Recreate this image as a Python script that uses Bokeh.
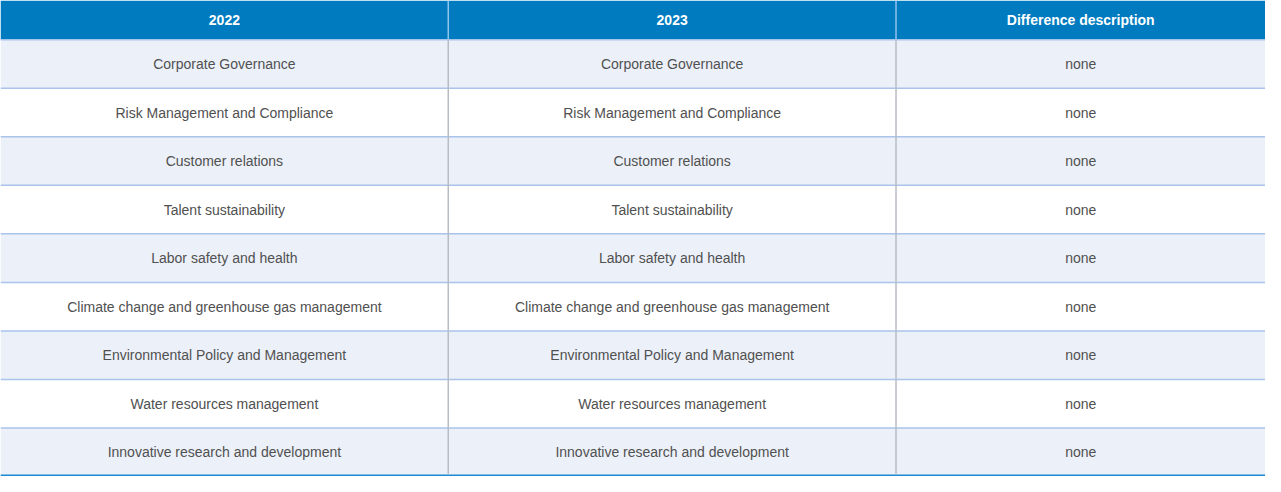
from bokeh.plotting import figure
from bokeh.models import ColumnDataSource
from bokeh.embed import file_html
from bokeh.resources import INLINE
from bokeh.core.properties import value

headers = ["2022", "2023", "Difference description"]
topics_2022 = [
    "Corporate Governance",
    "Risk Management and Compliance",
    "Customer relations",
    "Talent sustainability",
    "Labor safety and health",
    "Climate change and greenhouse gas management",
    "Environmental Policy and Management",
    "Water resources management",
    "Innovative research and development",
]
topics_2023 = list(topics_2022)
differences = ["none"] * 9

# layout (reference pixel space)
X_LEFT, X_RIGHT = 2, 1279
COL_EDGES = [2, 454, 906, 1279]
HEAD_TOP, HEAD_BOT = 3, 43
ROW_H = 49.45
n = len(topics_2022)

W, H = 1265, 476
p = figure(width=W, height=H, output_backend="svg", toolbar_location=None,
           x_range=(X_LEFT, X_RIGHT), y_range=(HEAD_BOT + n * ROW_H, HEAD_TOP),
           x_axis_location=None, y_axis_location=None, min_border=0)
p.grid.visible = False
p.outline_line_color = None
p.background_fill_color = "white"
p.border_fill_color = "white"

# header
p.quad(left=[X_LEFT], right=[X_RIGHT], top=[HEAD_TOP], bottom=[HEAD_BOT],
       fill_color="#007BC0", line_color=None)
# row backgrounds
tops = [HEAD_BOT + i * ROW_H for i in range(n)]
bots = [t + ROW_H for t in tops]
fills = ["#ECF0F9" if i % 2 == 0 else "#FFFFFF" for i in range(n)]
p.quad(left=[X_LEFT] * n, right=[X_RIGHT] * n, top=tops, bottom=bots,
       fill_color=fills, line_color=None)

# horizontal lines
ys = [HEAD_BOT + i * ROW_H for i in range(n)]
p.segment(x0=[X_LEFT] * n, x1=[X_RIGHT] * n, y0=ys, y1=ys,
          line_color="#A9C4EA", line_width=1.5)
# bottom line
yb = HEAD_BOT + n * ROW_H
p.segment(x0=[X_LEFT], x1=[X_RIGHT], y0=[yb - 1], y1=[yb - 1],
          line_color="#1A8AD4", line_width=2)
# vertical dividers
vx = COL_EDGES[1:3]
p.segment(x0=vx, x1=vx, y0=[HEAD_TOP] * 2, y1=[HEAD_BOT] * 2,
          line_color="#8FC4EC", line_width=1.5)
p.segment(x0=vx, x1=vx, y0=[HEAD_BOT] * 2, y1=[yb - 2] * 2,
          line_color="#B8BCC4", line_width=1.5)

# header text
cx = [(COL_EDGES[i] + COL_EDGES[i + 1]) / 2 for i in range(3)]
p.text(x=cx, y=[(HEAD_TOP + HEAD_BOT) / 2] * 3, text=headers,
       text_font=value("Liberation Sans"), text_font_style="bold",
       text_font_size="14px", text_color="white",
       text_align="center", text_baseline="middle")

# body text
xs, yss, txt = [], [], []
for i in range(n):
    ymid = tops[i] + ROW_H / 2
    for j, col in enumerate([topics_2022, topics_2023, differences]):
        xs.append(cx[j]); yss.append(ymid); txt.append(col[i])
src = ColumnDataSource(dict(x=xs, y=yss, t=txt))
p.text(x="x", y="y", text="t", source=src,
       text_font=value("Liberation Sans"), text_font_size="14px",
       text_color="#505050", text_align="center", text_baseline="middle")

open("out.html", "w").write(file_html(p, INLINE))
